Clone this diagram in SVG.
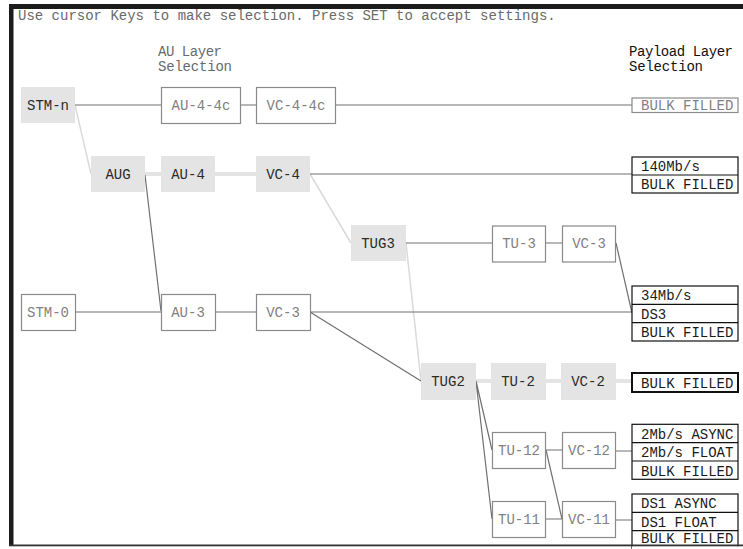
<svg xmlns="http://www.w3.org/2000/svg" width="743" height="549" viewBox="0 0 743 549">
<style>
text{font-family:"Liberation Mono","DejaVu Sans Mono",monospace;font-size:14px}
.hd{fill:#6a6a6a}
.hb{fill:#111}
.on rect{fill:#e4e4e4;stroke:none}
.on text{fill:#2a2a2a;text-anchor:middle}
.off rect{fill:#fff;stroke:#8a8a8a;stroke-width:1.2}
.off text{fill:#808080;text-anchor:middle}
.pl rect,.pl line{fill:#fff;stroke:#111;stroke-width:1.2}
.pl text{fill:#1a1a1a}
.pg rect{fill:#fff;stroke:#8a8a8a;stroke-width:1.2}
.pg text{fill:#808080}
.dk{stroke:#707070;stroke-width:1.2;fill:none}
.lt{stroke:#dadada;stroke-width:1.5;fill:none}
.lk{stroke:#e4e4e4;stroke-width:4;fill:none}
</style>
<rect x="0" y="0" width="743" height="549" fill="#fff"/>
<g id="frame">
<rect x="9" y="4" width="734" height="5" fill="#1c1c1c"/>
<rect x="9" y="4" width="4.5" height="542" fill="#1c1c1c"/>
</g>
<g id="headers">
<text class="hd" x="18" y="20" font-size="13.8">Use cursor Keys to make selection. Press SET to accept settings.</text>
<text class="hd" x="158" y="56" font-size="12" textLength="64">AU Layer</text>
<text class="hd" x="158" y="71" font-size="12" textLength="74">Selection</text>
<text class="hb" x="629" y="56" font-size="12" textLength="104">Payload Layer</text>
<text class="hb" x="629" y="71" font-size="12" textLength="74">Selection</text>
</g>
<g id="connectors">
<path class="lk" d="M145,174H161M215,174H256M476,381H492M546,381H562M616,381H632"/>
<path class="lt" d="M75,105L91,174M310,174L351,243M406,243L421,381"/>
<path class="dk" d="M75,105H161M240,105H256M335,105H632M310,174H632M145,175L161,311M406,243H492M546,243H562M616,243L632,313M75,312H161M215,312H256M310,312H632M310,312L421,381M476,381L492,450M476,381L492,519M546,450H562M616,451H632M546,450L562,519M546,519H562M616,520H632"/>
</g>
<g id="stm-n" class="on"><rect x="21" y="87" width="54" height="36"/><text x="48" y="110">STM-n</text></g>
<g id="au-4-4c" class="off"><rect x="161.5" y="87.5" width="79" height="36"/><text x="201" y="110">AU-4-4c</text></g>
<g id="vc-4-4c" class="off"><rect x="256.5" y="87.5" width="79" height="36"/><text x="296" y="110">VC-4-4c</text></g>
<g id="aug" class="on"><rect x="91" y="156" width="54" height="36"/><text x="118" y="179">AUG</text></g>
<g id="au-4" class="on"><rect x="161" y="156" width="54" height="36"/><text x="188" y="179">AU-4</text></g>
<g id="vc-4" class="on"><rect x="256" y="156" width="54" height="36"/><text x="283" y="179">VC-4</text></g>
<g id="tug3" class="on"><rect x="351" y="225" width="55" height="36"/><text x="378" y="248">TUG3</text></g>
<g id="tu-3" class="off"><rect x="492.5" y="226" width="53" height="36"/><text x="519" y="248">TU-3</text></g>
<g id="vc-3a" class="off"><rect x="562.5" y="226" width="53" height="36"/><text x="589" y="248">VC-3</text></g>
<g id="stm-0" class="off"><rect x="21.5" y="294.5" width="54" height="36"/><text x="48" y="317">STM-0</text></g>
<g id="au-3" class="off"><rect x="161.5" y="294.5" width="54" height="36"/><text x="188" y="317">AU-3</text></g>
<g id="vc-3b" class="off"><rect x="256.5" y="294.5" width="54" height="36"/><text x="283" y="317">VC-3</text></g>
<g id="tug2" class="on"><rect x="421" y="363" width="55" height="37"/><text x="448" y="386">TUG2</text></g>
<g id="tu-2" class="on"><rect x="491" y="363" width="55" height="37"/><text x="518" y="386">TU-2</text></g>
<g id="vc-2" class="on"><rect x="561" y="363" width="55" height="37"/><text x="588" y="386">VC-2</text></g>
<g id="tu-12" class="off"><rect x="492.5" y="432.5" width="53" height="36"/><text x="519" y="455">TU-12</text></g>
<g id="vc-12" class="off"><rect x="562.5" y="432.5" width="53" height="36"/><text x="589" y="455">VC-12</text></g>
<g id="tu-11" class="off"><rect x="492.5" y="501.5" width="53" height="36"/><text x="519" y="524">TU-11</text></g>
<g id="vc-11" class="off"><rect x="562.5" y="501.5" width="53" height="36"/><text x="589" y="524">VC-11</text></g>
<g id="p1" class="pg"><rect x="632" y="98" width="106" height="14.5"/><text x="641" y="110">BULK FILLED</text></g>
<g id="p2" class="pl"><rect x="632" y="157" width="106" height="36"/><line x1="632" y1="175" x2="738" y2="175"/><text x="641" y="171">140Mb/s</text><text x="641" y="189">BULK FILLED</text></g>
<g id="p3" class="pl"><rect x="632" y="286" width="106" height="55"/><line x1="632" y1="304.3" x2="738" y2="304.3"/><line x1="632" y1="322.7" x2="738" y2="322.7"/><text x="641" y="300">34Mb/s</text><text x="641" y="318.5">DS3</text><text x="641" y="337">BULK FILLED</text></g>
<g id="p4" class="pl"><rect x="632" y="373" width="106" height="19" style="stroke-width:2"/><text x="641" y="387.5">BULK FILLED</text></g>
<g id="p5" class="pl"><rect x="632" y="424.3" width="106" height="55"/><line x1="632" y1="442.7" x2="738" y2="442.7"/><line x1="632" y1="461" x2="738" y2="461"/><text x="641" y="438.5">2Mb/s ASYNC</text><text x="641" y="457">2Mb/s FLOAT</text><text x="641" y="475.5">BULK FILLED</text></g>
<g id="p6" class="pl"><rect x="632" y="494" width="106" height="55"/><line x1="632" y1="512.3" x2="738" y2="512.3"/><line x1="632" y1="530.7" x2="738" y2="530.7"/><text x="641" y="508">DS1 ASYNC</text><text x="641" y="526.5">DS1 FLOAT</text><text x="641" y="543">BULK FILLED</text></g>
<rect x="632" y="546.3" width="111" height="3" fill="#fff"/>
<rect x="9" y="544.5" width="734" height="1.8" fill="#333"/>
</svg>
